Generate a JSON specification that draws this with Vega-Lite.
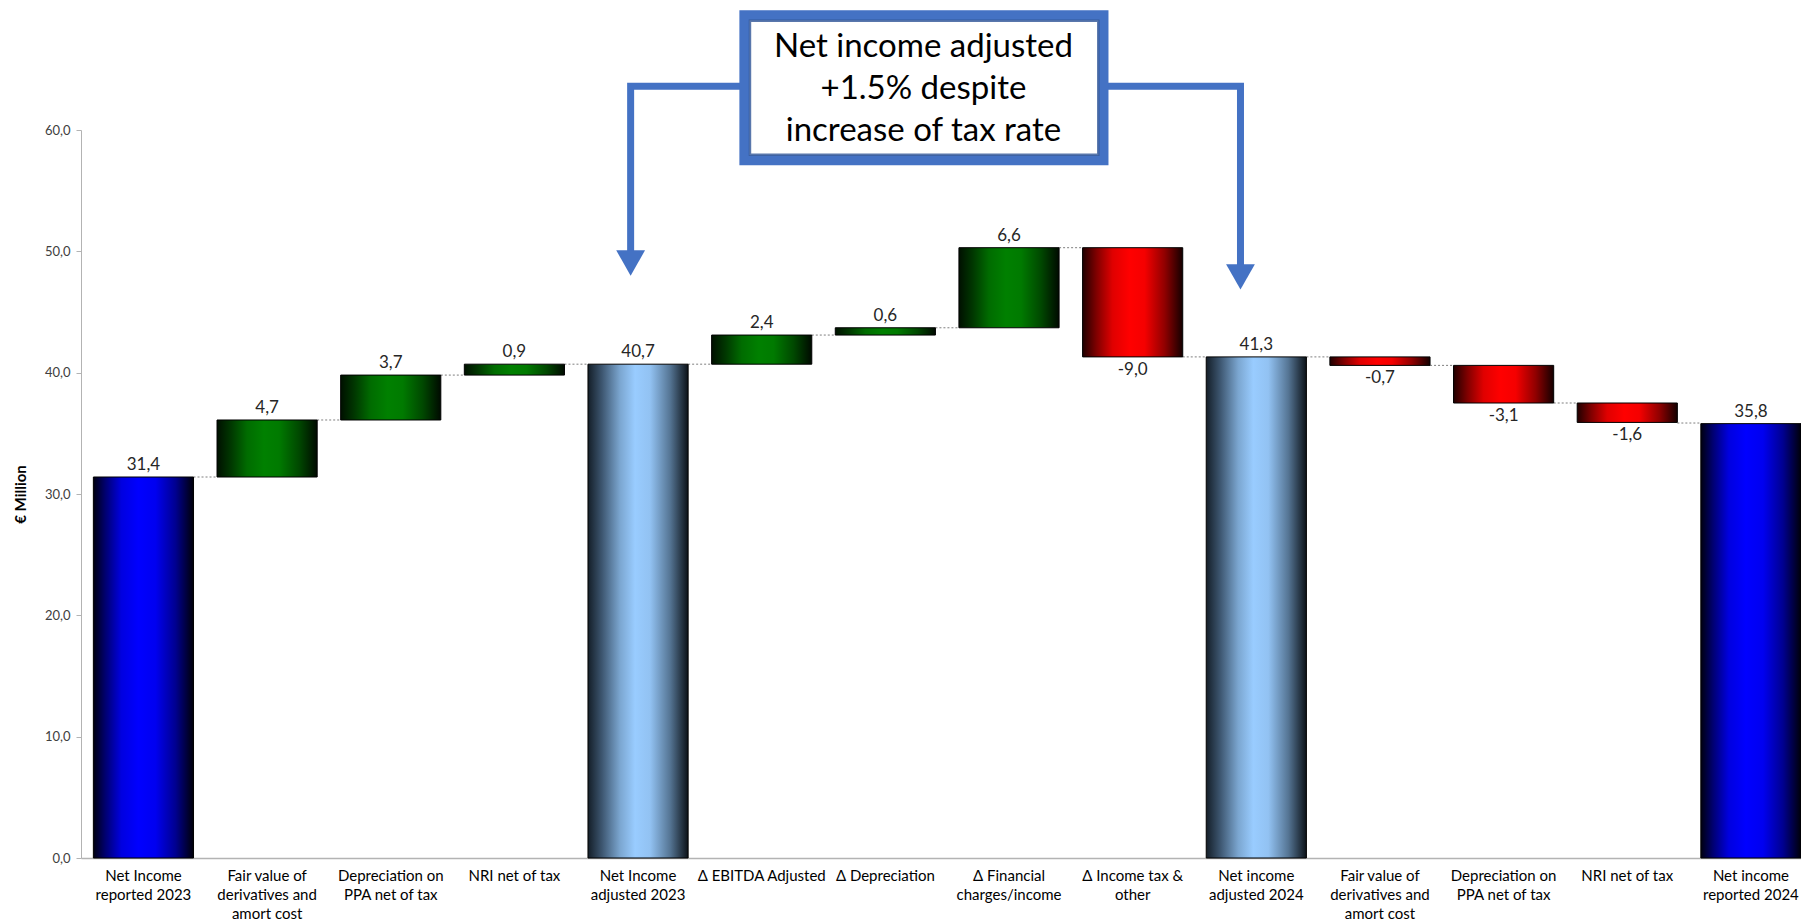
{
  "$schema": "https://vega.github.io/schema/vega-lite/v6.json",
  "width": 1720,
  "height": 728,
  "autosize": {"type": "none"},
  "padding": {"left": 81, "top": 130, "right": 0, "bottom": 66},
  "background": "white",
  "config": {
    "locale": {"number": {"decimal": ",", "thousands": ".", "grouping": [3], "currency": ["", " €"], "minus": "-"}},
    "numberFormat": ".1f",
    "view": {"stroke": null},
    "font": "Lato",
    "axisY": {
      "grid": false, "tickCount": 6, "labelFontSize": 13, "labelColor": "#404040",
      "domainColor": "#b3b3b3", "tickColor": "#b3b3b3", "tickSize": 5, "labelPadding": 6,
      "titleFontSize": 15, "titleFontWeight": "bold", "titleColor": "#000000", "titlePadding": 16
    },
    "axisX": {
      "labelAngle": 0, "ticks": false, "labelFontSize": 15, "labelColor": "#000000",
      "domainColor": "#b3b3b3", "domainWidth": 1.5, "labelPadding": 10, "labelLineHeight": 19,
      "labelBaseline": "top", "labelLimit": 0, "labelExpr": "split(datum.label, '|')"
    }
  },
  "datasets": {
    "steps": [
      {"step": "Net Income|reported 2023", "kind": "reported", "start": 0, "end": 31.4, "value": 31.4},
      {"step": "Fair value of|derivatives and|amort cost", "kind": "up", "start": 31.4, "end": 36.1, "value": 4.7},
      {"step": "Depreciation on|PPA net of tax", "kind": "up", "start": 36.1, "end": 39.8, "value": 3.7},
      {"step": "NRI net of tax", "kind": "up", "start": 39.8, "end": 40.7, "value": 0.9},
      {"step": "Net Income|adjusted 2023", "kind": "adjusted", "start": 0, "end": 40.7, "value": 40.7},
      {"step": "Δ EBITDA Adjusted", "kind": "up", "start": 40.7, "end": 43.1, "value": 2.4},
      {"step": "Δ Depreciation", "kind": "up", "start": 43.1, "end": 43.7, "value": 0.6},
      {"step": "Δ Financial|charges/income", "kind": "up", "start": 43.7, "end": 50.3, "value": 6.6},
      {"step": "Δ Income tax &|other", "kind": "down", "start": 50.3, "end": 41.3, "value": -9.0},
      {"step": "Net income|adjusted 2024", "kind": "adjusted", "start": 0, "end": 41.3, "value": 41.3},
      {"step": "Fair value of|derivatives and|amort cost ", "kind": "down", "start": 41.3, "end": 40.6, "value": -0.7},
      {"step": "Depreciation on|PPA net of tax ", "kind": "down", "start": 40.6, "end": 37.5, "value": -3.1},
      {"step": "NRI net of tax ", "kind": "down", "start": 37.5, "end": 35.9, "value": -1.6},
      {"step": "Net income|reported 2024", "kind": "reported", "start": 0, "end": 35.8, "value": 35.8}
    ],
    "links": [
      {"from": "Net Income|reported 2023", "to": "Fair value of|derivatives and|amort cost", "level": 31.4},
      {"from": "Fair value of|derivatives and|amort cost", "to": "Depreciation on|PPA net of tax", "level": 36.1},
      {"from": "Depreciation on|PPA net of tax", "to": "NRI net of tax", "level": 39.8},
      {"from": "NRI net of tax", "to": "Net Income|adjusted 2023", "level": 40.7},
      {"from": "Net Income|adjusted 2023", "to": "Δ EBITDA Adjusted", "level": 40.7},
      {"from": "Δ EBITDA Adjusted", "to": "Δ Depreciation", "level": 43.1},
      {"from": "Δ Depreciation", "to": "Δ Financial|charges/income", "level": 43.7},
      {"from": "Δ Financial|charges/income", "to": "Δ Income tax &|other", "level": 50.3},
      {"from": "Δ Income tax &|other", "to": "Net income|adjusted 2024", "level": 41.3},
      {"from": "Net income|adjusted 2024", "to": "Fair value of|derivatives and|amort cost ", "level": 41.3},
      {"from": "Fair value of|derivatives and|amort cost ", "to": "Depreciation on|PPA net of tax ", "level": 40.6},
      {"from": "Depreciation on|PPA net of tax ", "to": "NRI net of tax ", "level": 37.5},
      {"from": "NRI net of tax ", "to": "Net income|reported 2024", "level": 35.85}
    ],
    "arrows": [
      {"arrow": "left", "seq": 0, "ax": 4.95, "ay": 63.6},
      {"arrow": "left", "seq": 1, "ax": 3.94, "ay": 63.6},
      {"arrow": "left", "seq": 2, "ax": 3.94, "ay": 49.94},
      {"arrow": "right", "seq": 0, "ax": 7.7, "ay": 63.6},
      {"arrow": "right", "seq": 1, "ax": 8.872, "ay": 63.6},
      {"arrow": "right", "seq": 2, "ax": 8.872, "ay": 48.79}
    ],
    "heads": [
      {"arrow": "left", "hx": 3.94, "hy": 49.04},
      {"arrow": "right", "hx": 8.872, "hy": 47.9}
    ],
    "callout": [
      {"x1": 4.86, "x2": 7.764, "y1": 57.5, "y2": 69.45, "ix1": 4.905, "ix2": 7.722, "iy1": 57.95, "iy2": 69.0, "tx": 6.308, "ty": 66.84,
       "note": "Net income adjusted|+1.5% despite|increase of tax rate"}
    ]
  },
  "resolve": {"scale": {"x": "independent"}},
  "layer": [
    {
      "layer": [
        {
          "data": {"name": "links"},
          "mark": {"type": "rule", "color": "#7f7f7f", "strokeWidth": 1, "strokeDash": [2, 2]},
          "encoding": {
            "x": {"field": "from", "type": "nominal", "bandPosition": 1, "title": null,
                  "scale": {"domain": ["Net Income|reported 2023", "Fair value of|derivatives and|amort cost", "Depreciation on|PPA net of tax", "NRI net of tax", "Net Income|adjusted 2023", "Δ EBITDA Adjusted", "Δ Depreciation", "Δ Financial|charges/income", "Δ Income tax &|other", "Net income|adjusted 2024", "Fair value of|derivatives and|amort cost ", "Depreciation on|PPA net of tax ", "NRI net of tax ", "Net income|reported 2024"],
                            "paddingInner": 0.19, "paddingOuter": 0.05, "align": 1, "round": false}},
            "x2": {"field": "to", "bandPosition": 0},
            "y": {"field": "level", "type": "quantitative", "title": "€ Million", "scale": {"domain": [0, 60], "nice": false, "zero": true}}
          }
        },
        {
          "data": {"name": "steps"},
          "transform": [{"filter": "datum.kind === 'reported'"}],
          "mark": {"type": "bar", "stroke": "#000000", "strokeWidth": 1,
                   "fill": {"gradient": "linear", "x1": 0, "y1": 0, "x2": 1, "y2": 0,
                            "stops": [{"offset": 0, "color": "#000010"}, {"offset": 0.12, "color": "#000070"}, {"offset": 0.28, "color": "#0000e0"}, {"offset": 0.45, "color": "#0000ff"}, {"offset": 0.62, "color": "#0000f0"}, {"offset": 0.82, "color": "#000090"}, {"offset": 1, "color": "#000008"}]}},
          "encoding": {
            "x": {"field": "step", "type": "nominal", "title": null},
            "y": {"field": "start", "type": "quantitative", "title": "€ Million"},
            "y2": {"field": "end"}
          }
        },
        {
          "data": {"name": "steps"},
          "transform": [{"filter": "datum.kind === 'adjusted'"}],
          "mark": {"type": "bar", "stroke": "#000000", "strokeWidth": 1,
                   "fill": {"gradient": "linear", "x1": 0, "y1": 0, "x2": 1, "y2": 0,
                            "stops": [{"offset": 0, "color": "#141e28"}, {"offset": 0.14, "color": "#3d5670"}, {"offset": 0.32, "color": "#7ba6d0"}, {"offset": 0.47, "color": "#99ccff"}, {"offset": 0.62, "color": "#92c2f2"}, {"offset": 0.82, "color": "#557594"}, {"offset": 1, "color": "#0c1218"}]}},
          "encoding": {
            "x": {"field": "step", "type": "nominal", "title": null},
            "y": {"field": "start", "type": "quantitative", "title": "€ Million"},
            "y2": {"field": "end"}
          }
        },
        {
          "data": {"name": "steps"},
          "transform": [{"filter": "datum.kind === 'up'"}],
          "mark": {"type": "bar", "stroke": "#000000", "strokeWidth": 1,
                   "fill": {"gradient": "linear", "x1": 0, "y1": 0, "x2": 1, "y2": 0,
                            "stops": [{"offset": 0, "color": "#001000"}, {"offset": 0.14, "color": "#003800"}, {"offset": 0.3, "color": "#006c00"}, {"offset": 0.47, "color": "#008000"}, {"offset": 0.62, "color": "#007a00"}, {"offset": 0.82, "color": "#004800"}, {"offset": 1, "color": "#000a00"}]}},
          "encoding": {
            "x": {"field": "step", "type": "nominal", "title": null},
            "y": {"field": "start", "type": "quantitative", "title": "€ Million"},
            "y2": {"field": "end"}
          }
        },
        {
          "data": {"name": "steps"},
          "transform": [{"filter": "datum.kind === 'down'"}],
          "mark": {"type": "bar", "stroke": "#000000", "strokeWidth": 1,
                   "fill": {"gradient": "linear", "x1": 0, "y1": 0, "x2": 1, "y2": 0,
                            "stops": [{"offset": 0, "color": "#200000"}, {"offset": 0.14, "color": "#800000"}, {"offset": 0.3, "color": "#e00000"}, {"offset": 0.47, "color": "#ff0000"}, {"offset": 0.62, "color": "#f50000"}, {"offset": 0.82, "color": "#900000"}, {"offset": 1, "color": "#140000"}]}},
          "encoding": {
            "x": {"field": "step", "type": "nominal", "title": null},
            "y": {"field": "start", "type": "quantitative", "title": "€ Million"},
            "y2": {"field": "end"}
          }
        },
        {
          "data": {"name": "steps"},
          "transform": [{"filter": "datum.value >= 0"}],
          "mark": {"type": "text", "baseline": "bottom", "dy": -3, "fontSize": 17, "color": "#262626"},
          "encoding": {
            "x": {"field": "step", "type": "nominal", "title": null},
            "y": {"field": "end", "type": "quantitative", "title": "€ Million"},
            "text": {"field": "value", "type": "quantitative", "format": ".1f"}
          }
        },
        {
          "data": {"name": "steps"},
          "transform": [{"filter": "datum.value < 0"}],
          "mark": {"type": "text", "baseline": "top", "dy": 5, "fontSize": 17, "color": "#262626"},
          "encoding": {
            "x": {"field": "step", "type": "nominal", "title": null},
            "y": {"field": "end", "type": "quantitative", "title": "€ Million"},
            "text": {"field": "value", "type": "quantitative", "format": ".1f"}
          }
        }
      ]
    },
    {
      "layer": [
        {
          "data": {"name": "arrows"},
          "mark": {"type": "line", "color": "#4472c4", "strokeWidth": 7, "strokeJoin": "miter", "strokeCap": "butt"},
          "encoding": {
            "x": {"field": "ax", "type": "quantitative", "axis": null, "scale": {"domain": [-0.505, 13.405], "nice": false, "zero": false}},
            "y": {"field": "ay", "type": "quantitative", "title": "€ Million"},
            "detail": {"field": "arrow"},
            "order": {"field": "seq"}
          }
        },
        {
          "data": {"name": "heads"},
          "mark": {"type": "point", "shape": "M -1 -0.88 L 1 -0.88 L 0 0.88 Z", "size": 829, "filled": true, "color": "#4472c4", "opacity": 1},
          "encoding": {
            "x": {"field": "hx", "type": "quantitative", "axis": null},
            "y": {"field": "hy", "type": "quantitative", "title": "€ Million"}
          }
        },
        {
          "data": {"name": "callout"},
          "mark": {"type": "rect", "fill": "#ffffff", "stroke": "#4472c4", "strokeWidth": 10},
          "encoding": {
            "x": {"field": "x1", "type": "quantitative", "axis": null},
            "x2": {"field": "x2"},
            "y": {"field": "y1", "type": "quantitative", "title": "€ Million"},
            "y2": {"field": "y2"}
          }
        },
        {
          "data": {"name": "callout"},
          "mark": {"type": "rect", "fill": null, "fillOpacity": 0, "stroke": "#2f5597", "strokeWidth": 2.5, "strokeOpacity": 0.8},
          "encoding": {
            "x": {"field": "ix1", "type": "quantitative", "axis": null},
            "x2": {"field": "ix2"},
            "y": {"field": "iy1", "type": "quantitative", "title": "€ Million"},
            "y2": {"field": "iy2"}
          }
        },
        {
          "data": {"name": "callout"},
          "mark": {"type": "text", "lineBreak": "|", "fontSize": 33, "lineHeight": 42, "align": "center", "baseline": "middle", "color": "#000000"},
          "encoding": {
            "x": {"field": "tx", "type": "quantitative", "axis": null},
            "y": {"field": "ty", "type": "quantitative", "title": "€ Million"},
            "text": {"field": "note", "type": "nominal"}
          }
        }
      ]
    }
  ]
}
